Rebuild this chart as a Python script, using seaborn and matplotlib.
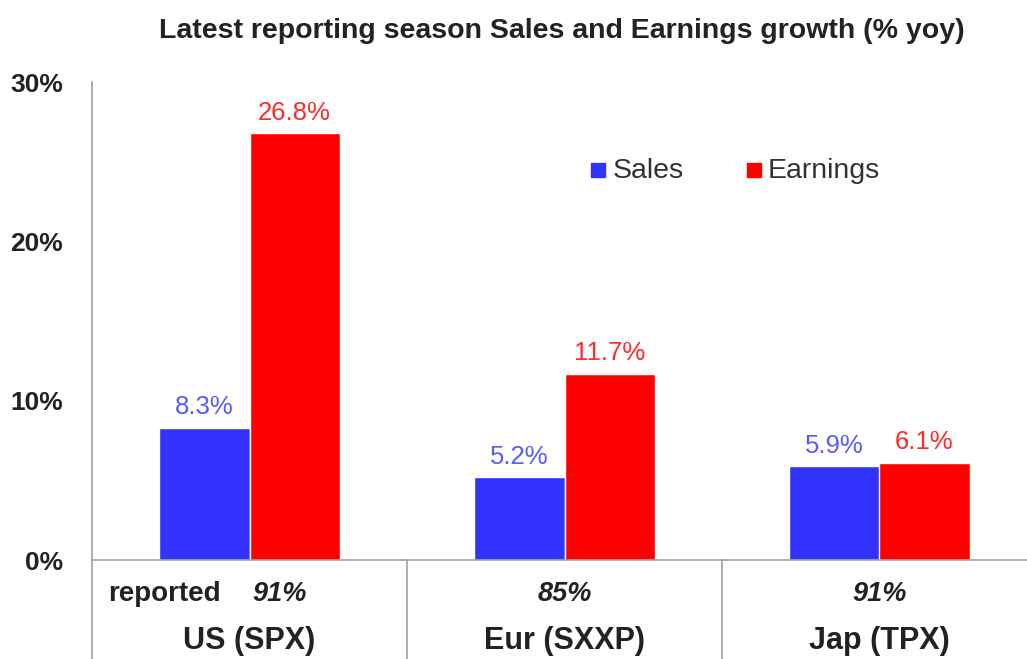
import matplotlib
matplotlib.use("Agg")
import matplotlib.pyplot as plt
import matplotlib.transforms as mtransforms
import seaborn as sns
import pandas as pd

# data
regions = ["US (SPX)", "Eur (SXXP)", "Jap (TPX)"]
series = ["Sales", "Earnings"]
sales = [8.3, 5.2, 5.9]
earnings = [26.8, 11.7, 6.1]
reported = ["91%", "85%", "91%"]
yticks = [0, 10, 20, 30]

df = pd.DataFrame({
    "region": regions * 2,
    "series": [series[0]] * 3 + [series[1]] * 3,
    "growth": sales + earnings,
})

sns.set_style("white")
plt.rcParams["font.family"] = ["Liberation Sans", "DejaVu Sans"]

bar_cols = {"Sales": "#3333ff", "Earnings": "#ff0000"}
lab_cols = {"Sales": "#5a5aff", "Earnings": "#ff2a2a"}
txt = "#222222"
grey = "#a0a0a0"

fig = plt.figure(figsize=(10.27, 6.59), dpi=100)
ax = fig.add_axes([92 / 1027, 1 - 560 / 659, 1 - 92 / 1027, 478 / 659])

sns.barplot(data=df, x="region", y="growth", hue="series", palette=bar_cols,
            width=0.572, saturation=1, ax=ax, legend=False)

ax.set_xlim(-0.5, -0.5 + (1027 - 92) / 315)
ax.set_ylim(0, 30)
ax.set_yticks(yticks)
ax.set_yticklabels([f"{t}%" for t in yticks], fontsize=19, fontweight="bold", color=txt)
ax.tick_params(axis="y", length=7, color=grey, pad=14)
ax.set_xticks([])
ax.set_xlabel("")
ax.set_ylabel("")
for s in ["top", "right"]:
    ax.spines[s].set_visible(False)
for s in ["left", "bottom"]:
    ax.spines[s].set_color(grey)
    ax.spines[s].set_linewidth(1.2)

# value labels
for cont, name in zip(ax.containers, series):
    ax.bar_label(cont, labels=[f"{v.get_height():.1f}%" for v in cont],
                 padding=6, fontsize=18.5, color=lab_cols[name])

# legend
ax.scatter([0.541], [0.815], marker="s", s=95, color=bar_cols["Sales"],
           transform=ax.transAxes, clip_on=False)
ax.text(0.557, 0.813, "Sales", transform=ax.transAxes, color="#333333",
        fontsize=20.5, va="center", ha="left")
ax.scatter([0.708], [0.815], marker="s", s=95, color=bar_cols["Earnings"],
           transform=ax.transAxes, clip_on=False)
ax.text(0.723, 0.813, "Earnings", transform=ax.transAxes, color="#333333",
        fontsize=20.5, va="center", ha="left")

# table under the axis
trans = mtransforms.blended_transform_factory(ax.transData, ax.transAxes)
for xs in [-0.5, 0.5, 1.5]:
    ax.plot([xs, xs], [0, -0.25], transform=trans, color=grey, lw=1.2, clip_on=False)

rep_x = [0.095, 1, 2]
for i, r in enumerate(reported):
    ax.text(rep_x[i], -0.072, r, transform=trans, ha="center", va="center",
            fontsize=19.5, fontweight="bold", fontstyle="italic", color=txt)
    ax.text(i, -0.17, regions[i], transform=trans, ha="center", va="center",
            fontsize=22, fontweight="bold", color=txt)
ax.text(-0.27, -0.072, "reported", transform=trans, ha="center", va="center",
        fontsize=20, fontweight="bold", color=txt)

fig.text(0.547, 0.953, "Latest reporting season Sales and Earnings growth (% yoy)",
         ha="center", va="center", fontsize=20.5, fontweight="bold", color=txt)

fig.savefig("out.png", dpi=100)
